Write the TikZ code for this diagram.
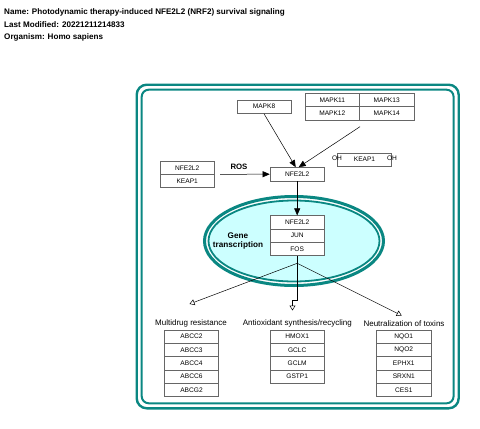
\documentclass[tikz,border=0pt]{standalone}
\usepackage{fontspec}
\setmainfont{Liberation Sans}
\usetikzlibrary{arrows.meta}

\definecolor{frame edge}{RGB}{10,135,130}
\definecolor{nucleus area}{RGB}{204,255,255}
\definecolor{box edge}{gray}{0.4}

\begin{document}
\begin{tikzpicture}[x=1pt, y=-1pt, font=\fontsize{8}{9}\selectfont,
  genebox/.style={draw=box edge, fill=white, line width=0.7pt, minimum width=54.3pt, minimum height=13.35pt, inner sep=0pt, font=\fontsize{6.6}{7}\selectfont},
  header/.style={anchor=west, inner sep=0pt, font=\fontsize{8.1}{9}\selectfont\bfseries},
  activation/.style={-{Triangle[length=7pt,width=6pt]}, line width=0.5pt},
  transcription/.style={-{Triangle[open,length=5pt,width=6pt]}, line width=0.5pt}]
\useasboundingbox (0,0) rectangle (480,429);

% header
\node[header] (title) at (4,12) {Name: Photodynamic therapy-induced NFE2L2 (NRF2) survival signaling};
\node[header] (modified) at (4,24.5) {Last Modified: 20221211214833};
\node[header] (organism) at (4,37) {Organism: Homo sapiens};

% cell frame
\draw[frame edge, line width=2.4pt, rounded corners=10pt] (136.7,84.7) rectangle (458.7,408.3);
\draw[frame edge, line width=2pt, rounded corners=7pt] (141.7,89.7) rectangle (453.6,403.3);

% nucleus
\draw[frame edge, line width=3pt, fill=white] (294,241) ellipse [x radius=89.5, y radius=44.5];
\draw[frame edge, line width=1.8pt, fill=nucleus area] (294,241) ellipse [x radius=85.5, y radius=40.5];
\node[font=\fontsize{8.2}{9.2}\selectfont\bfseries, align=center] (genetx) at (238,241) {Gene\\transcription};

% kinases
\node[genebox] (mapkeight) at (264,106.7) {MAPK8};
\node[genebox] (mapkeleven) at (332.3,100) {MAPK11};
\node[genebox] (mapkthirteen) at (386.7,100) {MAPK13};
\node[genebox] (mapktwelve) at (332.3,113.4) {MAPK12};
\node[genebox] (mapkfourteen) at (386.7,113.4) {MAPK14};
\coordinate (mapkout) at (360,126.7);

% KEAP1 with OH
\node[genebox] (keapoh) at (364.5,159.7) {KEAP1};
\node[font=\fontsize{6.6}{7}\selectfont, inner sep=0pt] (ohleft) at (337,158) {OH};
\node[font=\fontsize{6.6}{7}\selectfont, inner sep=0pt] (ohright) at (392,158) {OH};

% complex and ROS
\node[genebox] (cplxnfe) at (187.2,167.7) {NFE2L2};
\node[genebox] (cplxkeap) at (187.2,181) {KEAP1};
\coordinate (rosstart) at (220,174.3);
\node[font=\fontsize{7.8}{9}\selectfont\bfseries] (ros) at (239,167.3) {ROS};
\node[genebox] (nfe) at (297.2,174.2) {NFE2L2};

% nuclear factors
\node[genebox] (nucnfe) at (297.2,222.4) {NFE2L2};
\node[genebox] (nucjun) at (297.2,235.7) {JUN};
\node[genebox] (nucfos) at (297.2,249.1) {FOS};
\coordinate (branch) at (297.2,263.3);

% target groups
\node (lblmdr) at (191,323.3) {Multidrug resistance};
\node (lblanti) at (297.3,323.3) {Antioxidant synthesis/recycling};
\node (lbltox) at (404,323.3) {Neutralization of toxins};

\foreach \gname [count=\i] in {ABCC2,ABCC3,ABCC4,ABCC6,ABCG2}
\node[genebox] (mdr\i) at (191.5,336.7+13.33*\i-13.33) {\gname};
\foreach \gname [count=\i] in {HMOX1,GCLC,GCLM,GSTP1}
\node[genebox] (anti\i) at (297.2,336.7+13.33*\i-13.33) {\gname};
\foreach \gname [count=\i] in {NQO1,NQO2,EPHX1,SRXN1,CES1}
\node[genebox] (tox\i) at (403.8,336.7+13.33*\i-13.33) {\gname};

\coordinate (mdrtip) at (189.5,304);
\coordinate (antitip) at (292.5,310.5);
\coordinate (toxtip) at (401.7,315.5);

% interactions
\draw[activation] (rosstart) -- (nfe.west);
\draw[activation] (mapkeight.south) -- ([xshift=-1.5pt]nfe.north);
\draw[activation] (mapkout) -- ([xshift=1.5pt]nfe.north);
\draw[activation] (nfe.south) -- (nucnfe.north);
\draw[line width=0.5pt] (nucfos.south) -- (branch);
\draw[transcription] (branch) -- (mdrtip);
\draw[transcription] (branch) -- (297.2,300) -- (292.5,300) -- (antitip);
\draw[transcription] (branch) -- (toxtip);
\end{tikzpicture}
\end{document}
